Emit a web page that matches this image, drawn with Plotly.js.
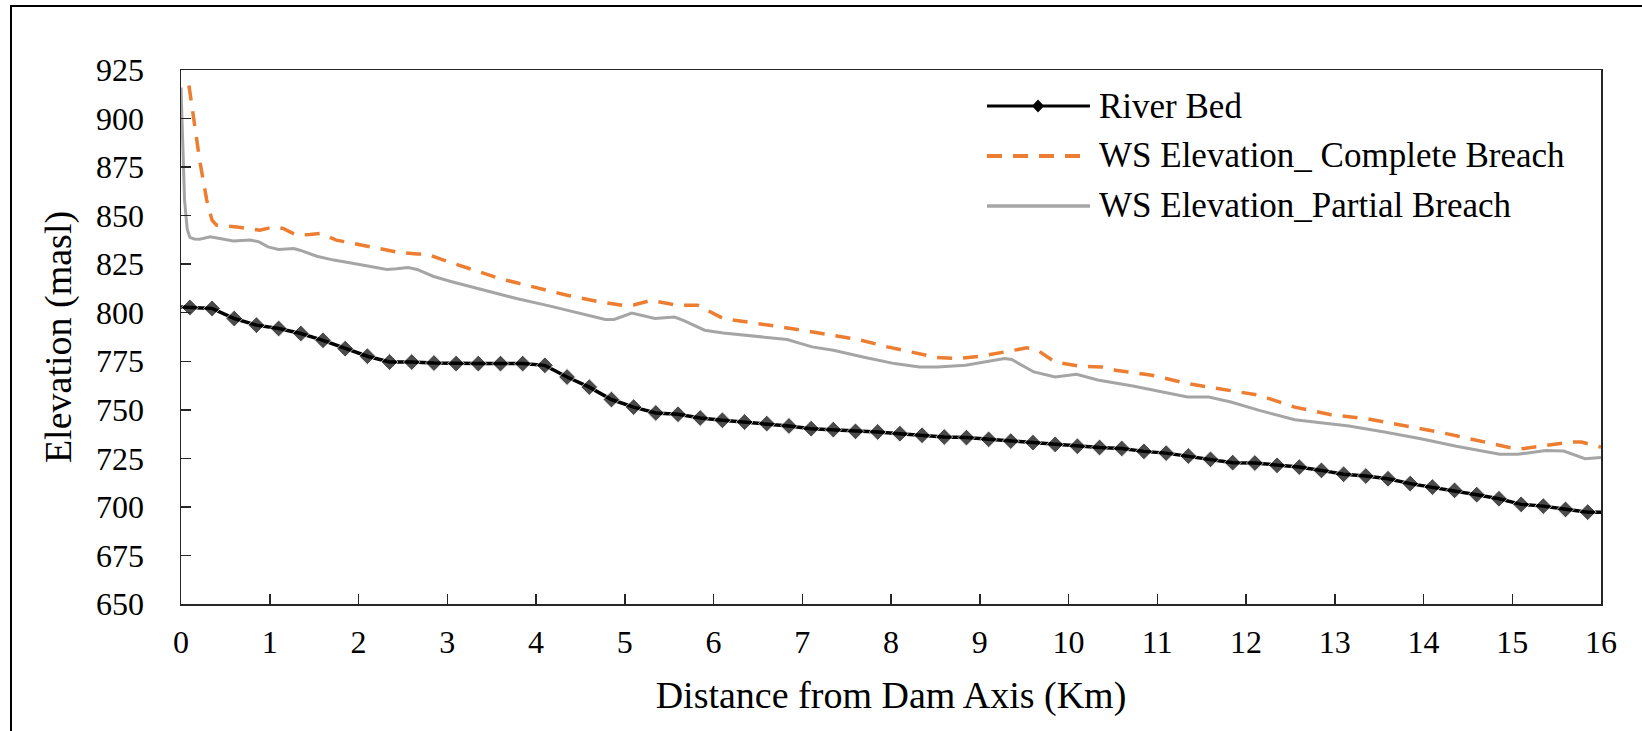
<!DOCTYPE html>
<html>
<head>
<meta charset="utf-8">
<script src="https://cdn.plot.ly/plotly-3.0.1.min.js"></script>
<style>
  html, body { margin: 0; padding: 0; background: #ffffff; overflow: hidden; }
  #wrap { position: relative; width: 1642px; height: 731px; }
  #chart { position: absolute; left: 0; top: 0; width: 1642px; height: 731px; }
  #frame { position: absolute; left: 10px; top: 5px; width: 1660px; height: 760px;
           border: 2px solid #000; box-sizing: border-box; pointer-events: none; }
</style>
</head>
<body>
<div id="wrap">
  <div id="chart"></div>
  <div id="frame"></div>
</div>
<script>
// ---- Data ----
const seriesNames = ["River Bed", "WS Elevation_ Complete Breach", "WS Elevation_Partial Breach"];

const riverX = [0, 0.1, 0.35, 0.6, 0.85, 1.1, 1.35, 1.6, 1.85, 2.1, 2.35, 2.6, 2.85, 3.1, 3.35, 3.6, 3.85,
  4.1, 4.35, 4.6, 4.85, 5.1, 5.35, 5.6, 5.85, 6.1, 6.35, 6.6, 6.85, 7.1, 7.35, 7.6, 7.85, 8.1, 8.35,
  8.6, 8.85, 9.1, 9.35, 9.6, 9.85, 10.1, 10.35, 10.6, 10.85, 11.1, 11.35, 11.6, 11.85, 12.1, 12.35,
  12.6, 12.85, 13.1, 13.35, 13.6, 13.85, 14.1, 14.35, 14.6, 14.85, 15.1, 15.35, 15.6, 15.85, 16];
const riverY = [803, 802.7, 802.2, 797.0, 793.6, 791.9, 789.3, 785.8, 781.5, 777.6, 774.6, 774.6, 774.1,
  773.8, 773.8, 773.8, 773.8, 772.9, 766.9, 761.7, 755.3, 751.4, 748.4, 747.7, 745.8, 744.6, 743.7,
  742.9, 741.7, 740.3, 739.8, 738.9, 738.6, 737.7, 736.9, 736.0, 735.7, 734.8, 733.9, 733.1, 732.2,
  731.2, 730.6, 730.1, 728.6, 727.7, 726.2, 724.5, 722.8, 722.6, 721.4, 720.5, 718.8, 716.8, 715.9,
  714.5, 712.0, 710.2, 708.5, 706.3, 704.2, 701.3, 700.4, 698.7, 697.3, 697.3];

const completeX = [0.09, 0.21, 0.29, 0.35, 0.40, 0.63, 0.89, 1.04, 1.15, 1.30, 1.45, 1.57, 1.75, 2.09,
  2.43, 2.66, 2.77, 2.96, 3.22, 3.59, 3.97, 4.35, 4.72, 4.98, 5.10, 5.30, 5.58, 5.82, 6.11, 6.39,
  6.71, 6.99, 7.31, 7.63, 7.96, 8.28, 8.52, 8.76, 9.00, 9.28, 9.53, 9.65, 9.85, 10.13, 10.37, 10.53,
  10.94, 11.34, 11.83, 12.15, 12.55, 12.96, 13.36, 13.76, 14.17, 14.57, 14.98, 15.10, 15.38, 15.66,
  15.78, 16.0];
const completeY = [917, 878.6, 858, 847.7, 845.1, 844.2, 842.5, 844.2, 843.4, 840, 840.3, 840.8, 837.4,
  834.3, 831.3, 830.2, 830.2, 827.1, 823.3, 817.6, 813.3, 809.0, 805.6, 803.8, 804.0, 806.4, 803.9,
  803.9, 797.0, 795.3, 793.0, 791.0, 788.4, 786.2, 782.4, 779.0, 776.9, 776.4, 777.6, 779.8, 781.9,
  780.7, 774.6, 772.4, 772.1, 770.4, 767.8, 763.5, 760.1, 757.5, 751.4, 747.5, 745.4, 742.0, 738.6,
  734.6, 730.5, 729.9, 731.7, 733.4, 733.4, 730.8];

const partialX = [0, 0.02, 0.04, 0.07, 0.10, 0.15, 0.21, 0.33, 0.44, 0.59, 0.78, 0.88, 0.98, 1.10, 1.27,
  1.34, 1.53, 1.72, 1.90, 2.09, 2.32, 2.43, 2.56, 2.66, 2.84, 3.03, 3.41, 3.78, 4.16, 4.53, 4.78,
  4.88, 5.08, 5.34, 5.56, 5.66, 5.90, 6.11, 6.51, 6.83, 7.11, 7.35, 7.71, 8.04, 8.32, 8.52, 8.84,
  9.04, 9.28, 9.36, 9.61, 9.85, 10.09, 10.33, 10.74, 11.34, 11.58, 11.83, 12.15, 12.55, 12.96,
  13.16, 13.56, 13.97, 14.37, 14.86, 15.06, 15.38, 15.58, 15.82, 16.0];
const partialY = [916, 885, 858, 843, 838.8, 838, 837.9, 839.1, 838.2, 836.9, 837.4, 836.5, 833.9, 832.6,
  833.1, 832.2, 829.1, 827.1, 825.7, 824.1, 822.3, 822.6, 823.3, 822.3, 818.8, 816.2, 811.6, 807.3,
  803.4, 799.1, 796.5, 796.5, 799.8, 797.0, 797.8, 796.1, 791.0, 789.6, 787.9, 786.2, 782.4, 780.7,
  776.9, 773.8, 772.1, 772.1, 772.9, 774.6, 776.4, 775.9, 769.5, 766.9, 768.3, 765.4, 762.1, 756.6,
  756.6, 754.0, 749.7, 744.9, 742.5, 741.7, 738.6, 735.1, 731.2, 727.1, 727.1, 729.1, 728.8, 724.8,
  725.4];

const xTickVals = [0, 1, 2, 3, 4, 5, 6, 7, 8, 9, 10, 11, 12, 13, 14, 15, 16];
const yTickVals = [650, 675, 700, 725, 750, 775, 800, 825, 850, 875, 900, 925];

// ---- Styling ----
const FONT = 'Liberation Serif, serif';
const COL_BED = '#000000';
const COL_COMPLETE = '#ED7D31';
const COL_PARTIAL = '#A5A5A5';
const DASH = '15px,11px';

// Plot area in pixels (for placing the hand-drawn legend in paper coordinates)
const M = {l: 181, r: 41, t: 70, b: 127};
const W = 1642, H = 731;
const pw = W - M.l - M.r, ph = H - M.t - M.b;
const px = v => (v - M.l) / pw;
const py = v => (H - M.b - v) / ph;

const markerSizes = riverX.map((x, i) => (i === 0 || i === riverX.length - 1) ? 0 : 13);

const traces = [
  {x: partialX, y: partialY, name: seriesNames[2], type: 'scatter', mode: 'lines',
   line: {color: COL_PARTIAL, width: 3}, showlegend: false},
  {x: completeX, y: completeY, name: seriesNames[1], type: 'scatter', mode: 'lines',
   line: {color: COL_COMPLETE, width: 3.5, dash: DASH}, showlegend: false},
  {x: riverX, y: riverY, name: seriesNames[0], type: 'scatter', mode: 'lines+markers',
   line: {color: COL_BED, width: 3.5}, marker: {symbol: 'diamond', size: markerSizes, color: COL_BED},
   showlegend: false}
];

// Legend (drawn with shapes + annotations to match the long sample lines)
const legX0 = px(987), legX1 = px(1090), legMid = px(1038), legTextX = px(1097);
const rowsY = [py(106), py(156), py(206)];
const dx = 6 / pw, dy = 6.5 / ph;
const shapes = [
  {type: 'line', xref: 'paper', yref: 'paper', x0: legX0, x1: legX1, y0: rowsY[0], y1: rowsY[0],
   line: {color: COL_BED, width: 3}},
  {type: 'path', xref: 'paper', yref: 'paper',
   path: `M ${legMid - dx} ${rowsY[0]} L ${legMid} ${rowsY[0] + dy} L ${legMid + dx} ${rowsY[0]} L ${legMid} ${rowsY[0] - dy} Z`,
   fillcolor: COL_BED, line: {color: COL_BED, width: 0}},
  {type: 'line', xref: 'paper', yref: 'paper', x0: legX0, x1: legX1, y0: rowsY[1], y1: rowsY[1],
   line: {color: COL_COMPLETE, width: 4, dash: DASH}},
  {type: 'line', xref: 'paper', yref: 'paper', x0: legX0, x1: legX1, y0: rowsY[2], y1: rowsY[2],
   line: {color: COL_PARTIAL, width: 3.5}}
];

const annotations = seriesNames.map((n, i) => ({
  text: n, xref: 'paper', yref: 'paper', x: legTextX, y: rowsY[i],
  xanchor: 'left', yanchor: 'middle', showarrow: false,
  font: {family: FONT, size: 35, color: '#000'}
}));

const axisCommon = {
  showgrid: false, zeroline: false, showline: true, mirror: true,
  linecolor: '#262626', linewidth: 1.5,
  ticks: 'inside', ticklen: 10, tickwidth: 1.5, tickcolor: '#262626',
  tickfont: {family: FONT, size: 32, color: '#000'}
};

const layout = {
  width: W, height: H,
  margin: M,
  paper_bgcolor: '#ffffff', plot_bgcolor: '#ffffff',
  font: {family: FONT, color: '#000'},
  showlegend: false,
  xaxis: Object.assign({}, axisCommon, {
    range: [0, 16], tickvals: xTickVals, ticktext: xTickVals.map(String),
    ticklabelstandoff: 9,
    title: {text: 'Distance from Dam Axis (Km)', font: {family: FONT, size: 38, color: '#000'}, standoff: 22}
  }),
  yaxis: Object.assign({}, axisCommon, {
    range: [650, 925], tickvals: yTickVals, ticktext: yTickVals.map(String),
    ticklabelstandoff: 29,
    title: {text: 'Elevation (masl)', font: {family: FONT, size: 38, color: '#000'}, standoff: 13}
  }),
  shapes: shapes,
  annotations: annotations
};

Plotly.newPlot('chart', traces, layout, {displayModeBar: false, staticPlot: true});
</script>
</body>
</html>
